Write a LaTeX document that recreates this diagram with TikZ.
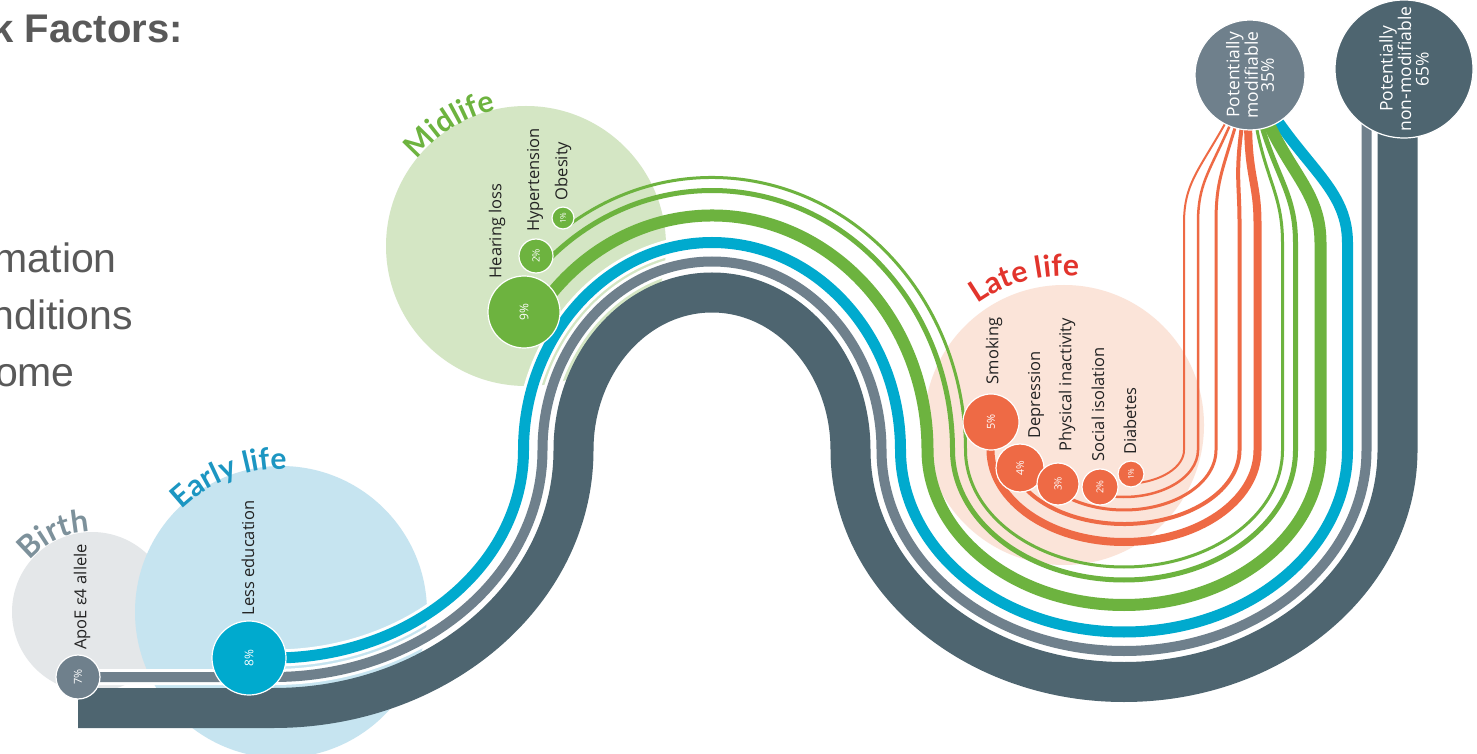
\documentclass[tikz,border=0pt]{standalone}
\usepackage{fontspec}
\setmainfont{Open Sans}
\newfontfamily\arialf{Liberation Sans}
\newfontfamily\titfont{Lato}
\usetikzlibrary{calc,decorations.text}
\definecolor{darkc}{RGB}{78,101,112}
\definecolor{grayc}{RGB}{111,128,140}
\definecolor{bluec}{RGB}{0,170,206}
\definecolor{greenc}{RGB}{109,179,63}
\definecolor{orangec}{RGB}{238,106,69}
\definecolor{birthbg}{RGB}{228,231,233}
\definecolor{earlybg}{RGB}{198,228,240}
\definecolor{midbg}{RGB}{212,230,196}
\definecolor{latebg}{RGB}{251,228,217}
\definecolor{birthtx}{RGB}{125,145,155}
\definecolor{earlytx}{RGB}{28,150,194}
\definecolor{latetx}{RGB}{226,52,44}
\definecolor{leftgray}{RGB}{89,89,89}
\definecolor{labc}{RGB}{35,35,35}
\newcommand\tkprep[1]{%
  \pgfmathsetmacro\tkHy{45+#1}%
  \pgfmathsetmacro\tkBrx{300-#1}\pgfmathsetmacro\tkBry{258-#1}%
  \pgfmathsetmacro\tkHrx{138.5+#1}\pgfmathsetmacro\tkHry{157.5+#1}%
  \pgfmathsetmacro\tkVrx{273.5-#1}\pgfmathsetmacro\tkVry{232-#1}%
  \pgfmathsetmacro\tkR{1397.5-#1}%
  \pgfmathsetmacro\tkL{850.5+#1}}
\newcommand\tkvalrx[1]{%
  \pgfmathsetmacro\tkVrx{#1}\pgfmathsetmacro\tkR{1124+#1}}
\newcommand\tktail[1]{%
  \pgfmathsetmacro\tkCx{1250+100*cos(#1)}\pgfmathsetmacro\tkCy{678+100*sin(#1)}}
\newcommand\tkhillstart[1]{%
  \pgfmathsetmacro\tkSx{712+\tkHrx*cos(#1)}\pgfmathsetmacro\tkSy{303+\tkHry*sin(#1)}}
\newcommand\tkvalstart[1]{%
  \pgfmathsetmacro\tkSx{1124+\tkVrx*cos(#1)}\pgfmathsetmacro\tkSy{303+\tkVry*sin(#1)}}
\begin{document}
\begin{tikzpicture}[x=1pt,y=1pt,
  band/.style={line width=#1, line cap=butt, line join=round},
  pct/.style={circle, draw=white, line width=1.2pt, inner sep=0pt, minimum size=#1, text=white, rotate=90},
  lab/.style={rotate=90, text=labc, inner sep=0pt, font=\fontsize{16.5}{18}\selectfont},
  trackB/.style={insert path={arc[start angle=270,end angle=360,x radius=\tkBrx,y radius=\tkBry]}},
  trackH/.style={insert path={arc[start angle=#1,end angle=0,x radius=\tkHrx,y radius=\tkHry]}},
  trackH/.default=180,
  trackV/.style={insert path={arc[start angle=#1,end angle=360,x radius=\tkVrx,y radius=\tkVry]}},
  trackV/.default=180,
  titl/.style={decorate, decoration={text along path, text align=center, text={#1}}},
  lefttx/.style={text=leftgray, anchor=base east, inner sep=0pt}]
\useasboundingbox (0,0) rectangle (1477,753);
\fill[white] (0,0) rectangle (1477,753);
\clip (0,0) rectangle (1477,753);
% background circles
\fill[birthbg] (92,141) circle[radius=80];
\fill[earlybg] (281,141) circle[radius=146];
\fill[midbg] (526,507) circle[radius=140];
\fill[latebg] (1064,328) circle[radius=140];
% titles
\path[titl={|\titfont\bfseries\fontsize{31}{31}\selectfont\color{birthtx}|Birth}] ($(92,141)+(160:80)$) arc[start angle=160,end angle=72,radius=80];
\path[titl={|\titfont\bfseries\fontsize{30}{30}\selectfont\color{earlytx}|Early life}] ($(281,141)+(150:143)$) arc[start angle=150,end angle=72,radius=143];
\path[titl={|\titfont\bfseries\fontsize{30}{30}\selectfont\color{greenc}|Midlife}] ($(526,507)+(160:139)$) arc[start angle=160,end angle=84,radius=139];
\path[titl={|\titfont\bfseries\fontsize{30}{30}\selectfont\color{latetx}|Late life}] ($(1064,328)+(140:149)$) arc[start angle=140,end angle=70,radius=149];
% anchor coordinates
\coordinate (d0) at (78,45);
\coordinate (p7) at (78,76);
\coordinate (p8) at (249,95);
\coordinate (p9) at (524,441);
\coordinate (pH) at (536,497);
\coordinate (pO) at (563,535);
\coordinate (p5) at (991,331);
\coordinate (p4) at (1020,285);
\coordinate (p3) at (1058,269);
\coordinate (p2) at (1100,266);
\coordinate (p1) at (1131,279);
\coordinate (p35) at (1250,678);
\coordinate (p65) at (1404,684);
\coordinate (e65d) at (1397.5,684);
\coordinate (e65g) at (1366.5,684);
% dark band
\tkprep{0}
\draw[darkc, band=40pt] (d0) -- (273.5,\tkHy) [trackB] [trackH] [trackV] -- (e65d);
% gray band
\tkprep{31}
\draw[white, band=16pt] (p7) -- (273.5,\tkHy) [trackB] [trackH] [trackV] -- (e65g);
\draw[grayc, band=10pt] (p7) -- (273.5,\tkHy) [trackB] [trackH] [trackV] -- (e65g);
% blue band
\tkprep{50}\tktail{297}
\draw[white, band=17pt] (p8) -- (273.5,\tkHy) [trackB] [trackH] [trackV] -- (\tkR,510) .. controls (\tkR,570) and (\tkCx,\tkCy) .. (p35);
\draw[bluec, band=11pt] (p8) -- (273.5,\tkHy) [trackB] [trackH] [trackV] -- (\tkR,510) .. controls (\tkR,570) and (\tkCx,\tkCy) .. (p35);
% green lines
\tkprep{77}\tkhillstart{146}\tktail{287}
\draw[greenc, band=12pt] (p9) -- (\tkSx,\tkSy) [trackH=146] [trackV] -- (\tkR,510) .. controls (\tkR,570) and (\tkCx,\tkCy) .. (p35);
\tkprep{102}\tkhillstart{134}\tktail{280}
\draw[greenc, band=5pt] (pH) -- (\tkSx,\tkSy) [trackH=134] [trackV] -- (\tkR,510) .. controls (\tkR,570) and (\tkCx,\tkCy) .. (p35);
\tkprep{115}\tkhillstart{125}\tktail{274}
\draw[greenc, band=3pt] (pO) -- (\tkSx,\tkSy) [trackH=125] [trackV] -- (\tkR,510) .. controls (\tkR,570) and (\tkCx,\tkCy) .. (p35);
% orange lines
\tkprep{140}\tktail{266}
\draw[orangec, band=8pt] (p5) -- (\tkL,303) [trackV] -- (\tkR,530) .. controls (\tkR,580) and (\tkCx,\tkCy) .. (p35);
\tkprep{158}\tkvalstart{195}\tktail{260}
\draw[orangec, band=4pt] (p4) -- (\tkSx,\tkSy) [trackV=195] -- (\tkR,530) .. controls (\tkR,580) and (\tkCx,\tkCy) .. (p35);
\tkprep{172}\tkvalrx{92}\tkvalstart{221}\tktail{255}
\draw[orangec, band=3pt] (p3) -- (\tkSx,\tkSy) [trackV=221] -- (\tkR,530) .. controls (\tkR,580) and (\tkCx,\tkCy) .. (p35);
\tkprep{185}\tkvalrx{74}\tkvalstart{251}\tktail{250}
\draw[orangec, band=2.5pt] (p2) -- (\tkSx,\tkSy) [trackV=251] -- (\tkR,530) .. controls (\tkR,580) and (\tkCx,\tkCy) .. (p35);
\tkprep{198}\tkvalrx{60}\tkvalstart{277}\tktail{245}
\draw[orangec, band=2pt] (p1) -- (\tkSx,\tkSy) [trackV=277] -- (\tkR,530) .. controls (\tkR,580) and (\tkCx,\tkCy) .. (p35);
% percentage circles
\node[pct=44pt, fill=grayc, font=\fontsize{11}{11}\selectfont] (c7) at (p7) {7\%};
\node[pct=74pt, fill=bluec, font=\fontsize{12}{12}\selectfont] (c8) at (p8) {8\%};
\node[pct=72pt, fill=greenc, font=\fontsize{12}{12}\selectfont] (c9) at (p9) {9\%};
\node[pct=34pt, fill=greenc, font=\fontsize{10}{10}\selectfont] (cH) at (pH) {2\%};
\node[pct=22pt, fill=greenc, font=\fontsize{8}{8}\selectfont] (cO) at (pO) {1\%};
\node[pct=56pt, fill=orangec, font=\fontsize{11}{11}\selectfont] (c5) at (p5) {5\%};
\node[pct=48pt, fill=orangec, font=\fontsize{10.5}{10.5}\selectfont] (c4) at (p4) {4\%};
\node[pct=42pt, fill=orangec, font=\fontsize{10}{10}\selectfont] (c3) at (p3) {3\%};
\node[pct=36pt, fill=orangec, font=\fontsize{9.5}{9.5}\selectfont] (c2) at (p2) {2\%};
\node[pct=26pt, fill=orangec, font=\fontsize{8}{8}\selectfont] (c1) at (p1) {1\%};
\node[pct=110pt, fill=grayc, align=center, font=\fontsize{17.5}{16}\selectfont] (c35) at (p35) {Potentially\\modifiable\\35\%};
\node[pct=138pt, fill=darkc, align=center, font=\fontsize{17.5}{17.5}\selectfont] (c65) at (p65) {Potentially\\non-modifiable\\65\%};
% labels
\node[lab] (lApo) at (82,156) {ApoE ε4 allele};
\node[lab] (lEdu) at (248,195) {Less education};
\node[lab] (lHear) at (497,522) {Hearing loss};
\node[lab] (lHyp) at (535,573) {Hypertension};
\node[lab] (lObe) at (563,582) {Obesity};
\node[lab] (lSmo) at (994,402) {Smoking};
\node[lab] (lDep) at (1036,358) {Depression};
\node[lab] (lPhy) at (1067,368) {Physical inactivity};
\node[lab] (lSoc) at (1098,349) {Social isolation};
\node[lab] (lDia) at (1130,332) {Diabetes};
% left texts
\node[lefttx, font=\arialf\bfseries\fontsize{40}{40}\selectfont] (tRisk) at (183,710) {k Factors:};
\node[lefttx, font=\arialf\fontsize{41}{41}\selectfont] (tA) at (117,480) {mation};
\node[lefttx, font=\arialf\fontsize{41}{41}\selectfont] (tB) at (133,423) {nditions};
\node[lefttx, font=\arialf\fontsize{41}{41}\selectfont] (tC) at (75,366) {ome};
\end{tikzpicture}
\end{document}
